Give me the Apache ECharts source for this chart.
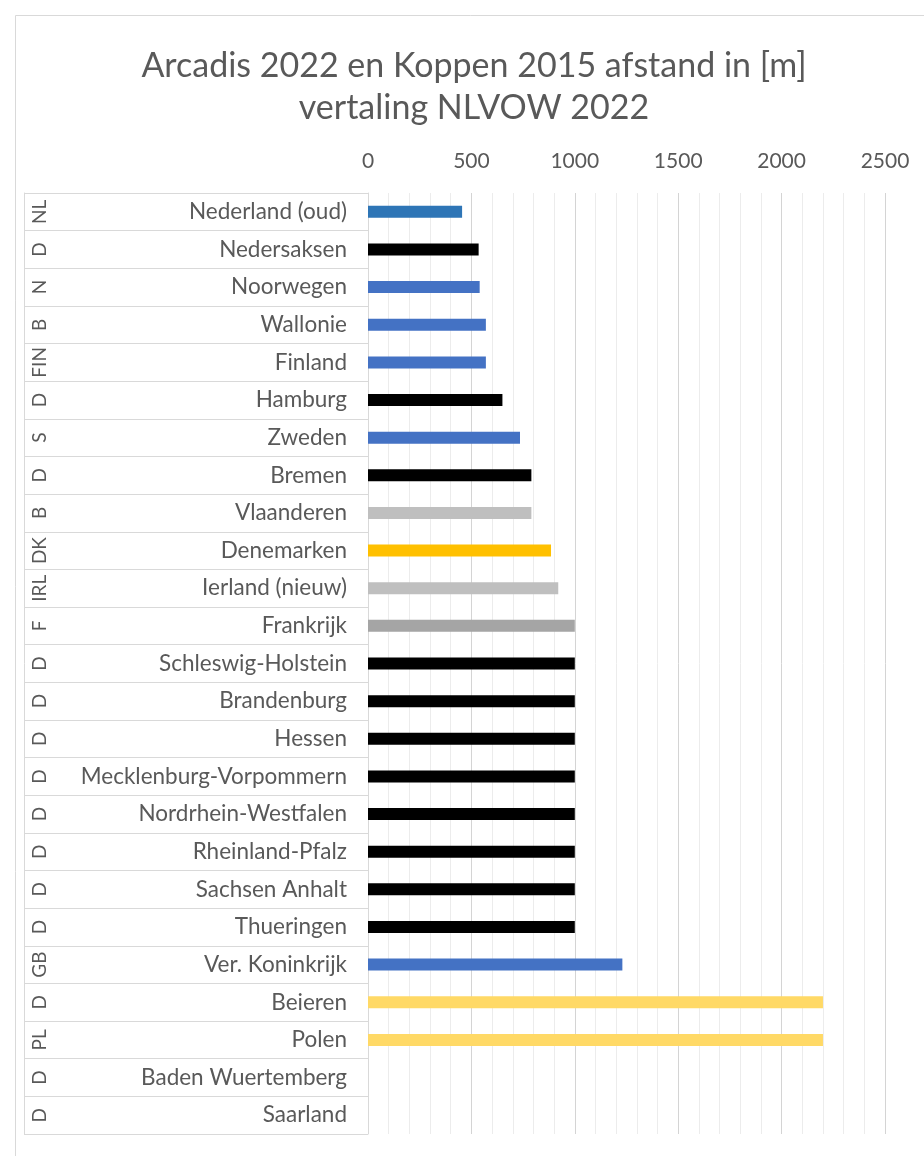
<!DOCTYPE html>
<html>
<head>
<meta charset="utf-8">
<script src="https://cdn.jsdelivr.net/npm/echarts@6/dist/echarts.min.js"></script>
<style>
html,body{margin:0;padding:0;background:#fff;}
#chart{width:924px;height:1156px;}
</style>
</head>
<body>
<div id="chart"></div>
<script>
const categories = ['Nederland (oud)','Nedersaksen','Noorwegen','Wallonie','Finland','Hamburg','Zweden','Bremen','Vlaanderen','Denemarken','Ierland (nieuw)','Frankrijk','Schleswig-Holstein','Brandenburg','Hessen','Mecklenburg-Vorpommern','Nordrhein-Westfalen','Rheinland-Pfalz','Sachsen Anhalt','Thueringen','Ver. Koninkrijk','Beieren','Polen','Baden Wuertemberg','Saarland'];
const codes = ['NL','D','N','B','FIN','D','S','D','B','DK','IRL','F','D','D','D','D','D','D','D','D','GB','D','PL','D','D'];
const values = [455,535,540,570,570,650,735,790,790,885,920,1000,1000,1000,1000,1000,1000,1000,1000,1000,1230,2200,2200,null,null];
const groups = ['nl','de','blue','blue','blue','de','blue','de','grayLight','gold','grayLight','gray','de','de','de','de','de','de','de','de','blue','yellow','yellow','de','de'];
const xTicks = [0,500,1000,1500,2000,2500];

const palette = {nl:'#2E75B6', blue:'#4472C4', de:'#000000', grayLight:'#BFBFBF', gray:'#A5A5A5', gold:'#FFC000', yellow:'#FFD966'};
const font = 'Lato, "Open Sans", sans-serif';

const chart = echarts.init(document.getElementById('chart'));
chart.setOption({
  backgroundColor:'#fff',
  animation:false,
  textStyle:{fontFamily:font},
  graphic:[{type:'rect', shape:{x:15.5,y:15.5,width:960,height:1200}, style:{fill:'none',stroke:'#d9d9d9',lineWidth:1}, silent:true}],
  title:{
    text:'Arcadis 2022 en Koppen 2015 afstand in [m]\nvertaling NLVOW 2022',
    left:469, top:40, textAlign:'center',
    textStyle:{fontFamily:font,fontSize:34,fontWeight:'normal',color:'#595959',lineHeight:42}
  },
  grid:{left:368,right:39,top:193,bottom:22,containLabel:false},
  xAxis:{
    type:'value', position:'top', min:xTicks[0], max:xTicks[xTicks.length-1], interval:500,
    axisLine:{show:false}, axisTick:{show:false},
    axisLabel:{color:'#595959',fontSize:21,margin:21,fontFamily:font,formatter:v=>String(v)},
    splitLine:{show:true,lineStyle:{color:'#d4d4d4',width:1}},
    minorTick:{show:false,splitNumber:5},
    minorSplitLine:{show:true,lineStyle:{color:'#ececec',width:1}}
  },
  yAxis:[
    {
      type:'category', inverse:true, data:categories, position:'left',
      axisLine:{show:true,lineStyle:{color:'#d9d9d9'}},
      axisTick:{show:true,length:344,interval:0,lineStyle:{color:'#d9d9d9'}},
      axisLabel:{color:'#595959',fontSize:22.5,margin:21,interval:0,fontFamily:font}
    },
    {
      type:'category', inverse:true, data:codes, position:'left', offset:328,
      axisLine:{show:false}, axisTick:{show:false},
      axisLabel:{color:'#595959',fontSize:19,margin:0,interval:0,rotate:90,align:'center',verticalAlign:'middle',fontFamily:font}
    },
    {
      type:'category', inverse:true, data:categories, position:'left', offset:344,
      axisLine:{show:true,lineStyle:{color:'#d9d9d9'}}, axisTick:{show:false}, axisLabel:{show:false}
    }
  ],
  series:[{
    type:'bar', yAxisIndex:0, barWidth:12,
    data:values.map((v,i)=>({value:v,itemStyle:{color:palette[groups[i]]}}))
  }]
});
</script>
</body>
</html>
